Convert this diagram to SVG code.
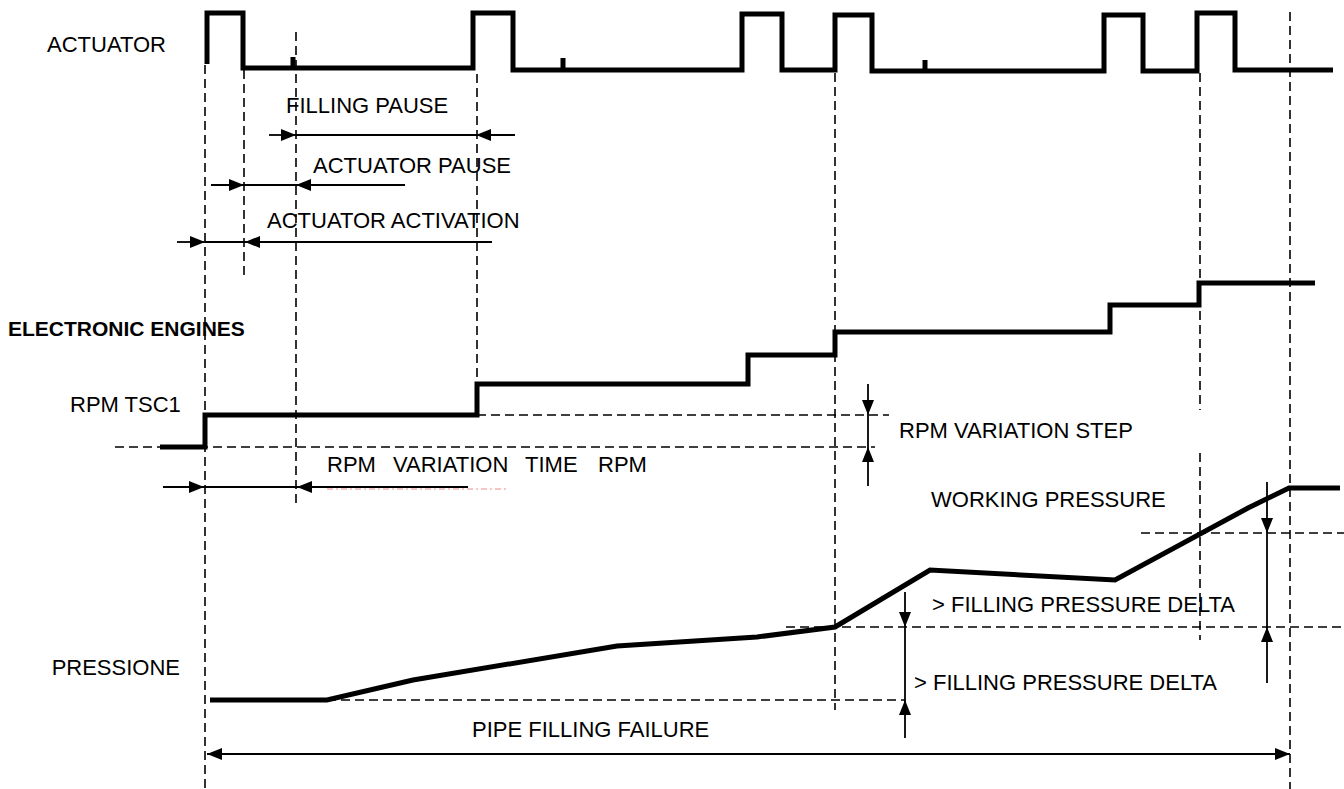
<svg xmlns="http://www.w3.org/2000/svg" width="1344" height="789" viewBox="0 0 1344 789">
<style>
text{font-family:"Liberation Sans",Arial,sans-serif;font-size:22px;fill:#000}
.b{font-weight:bold;font-size:21px}
.sig{fill:none;stroke:#000;stroke-width:5;stroke-linejoin:miter}
.dash{fill:none;stroke:#000;stroke-width:1.6;stroke-dasharray:9 5}
.ln{fill:none;stroke:#000;stroke-width:1.8}
.ar{fill:none;stroke:#000;stroke-width:1.8;marker-end:url(#ah)}
</style>
<defs>
<marker id="ah" viewBox="0 0 15 12" refX="15" refY="6" markerWidth="15" markerHeight="12" markerUnits="userSpaceOnUse" orient="auto"><path d="M0,0 L15,6 L0,12 z" fill="#000"/></marker>
</defs>
<rect width="1344" height="789" fill="#fff"/>

<g id="labels">
<text x="47" y="52">ACTUATOR</text>
<text class="b" x="8" y="336">ELECTRONIC ENGINES</text>
<text x="70" y="412">RPM TSC1</text>
<text x="180" y="675" text-anchor="end">PRESSIONE</text>
</g>

<g id="guides">
<path class="dash" d="M205,65V789 M244,70V276 M296,32V505 M477,74V384 M835,73V710 M1200,73V410 M1200,453V640 M1290,12V789"/>
<path class="dash" d="M115,447H875 M477,415H889 M1141,533H1344 M786,627H1344 M327,700H905"/>
</g>

<g id="actuator">
<path class="sig" d="M207,64V13H243V68H473V13H513V70H742V14H782V70H835V15H872V71H1104V15H1143V71H1197V13H1235V70H1333"/>
<path class="sig" d="M293,57V68 M563,58V69 M925,60V71" stroke-width="4"/>
</g>

<g id="rpm">
<path class="sig" d="M160,447H205V415H477V384H748V355H835V332H1110V305H1199V283H1315"/>
</g>

<g id="pressure">
<path class="sig" d="M210,700H327L413,680L617,646L757,637L835,627L930,570L1115,580L1248,508L1289,488H1340"/>
</g>

<g id="connectors">
<!-- filling pause -->
<path class="ar" d="M269,135H296"/><path class="ln" d="M296,135H476"/><path class="ar" d="M515,135H476"/>
<!-- actuator pause -->
<path class="ar" d="M211,185H244"/><path class="ln" d="M244,185H296"/><path class="ar" d="M405,185H296"/>
<!-- actuator activation -->
<path class="ar" d="M177,242H205"/><path class="ln" d="M205,242H245"/><path class="ar" d="M492,242H245"/>
<!-- rpm variation time -->
<path class="ar" d="M163,487H204"/><path class="ln" d="M204,487H297"/><path class="ar" d="M468,487H297"/>
<path d="M327,489H509" fill="none" stroke="#e03030" stroke-width="1" stroke-dasharray="6 3 2 3" opacity="0.55"/>
<!-- rpm variation step -->
<path class="ar" d="M868,384V415"/><path class="ln" d="M868,415V447"/><path class="ar" d="M868,486V447"/>
<!-- filling pressure delta -->
<path class="ar" d="M905,592V627"/><path class="ln" d="M905,627V700"/><path class="ar" d="M905,738V700"/>
<!-- working pressure -->
<path class="ar" d="M1267,482V533"/><path class="ln" d="M1267,533V627"/><path class="ar" d="M1267,683V627"/>
<!-- pipe filling failure -->
<path class="ar" d="M700,754H207"/><path class="ar" d="M700,754H1290"/>
</g>

<g id="connector-labels">
<text x="286" y="113">FILLING PAUSE</text>
<text x="313" y="173">ACTUATOR PAUSE</text>
<text x="267" y="228">ACTUATOR ACTIVATION</text>
<text x="327" y="472">RPM</text>
<text x="393" y="472">VARIATION</text>
<text x="525" y="472">TIME</text>
<text x="598" y="472">RPM</text>
<text x="899" y="438">RPM VARIATION STEP</text>
<text x="931" y="507">WORKING PRESSURE</text>
<text x="932" y="612">&gt; FILLING PRESSURE DELTA</text>
<text x="914" y="690">&gt; FILLING PRESSURE DELTA</text>
<text x="472" y="737">PIPE FILLING FAILURE</text>
</g>
</svg>
